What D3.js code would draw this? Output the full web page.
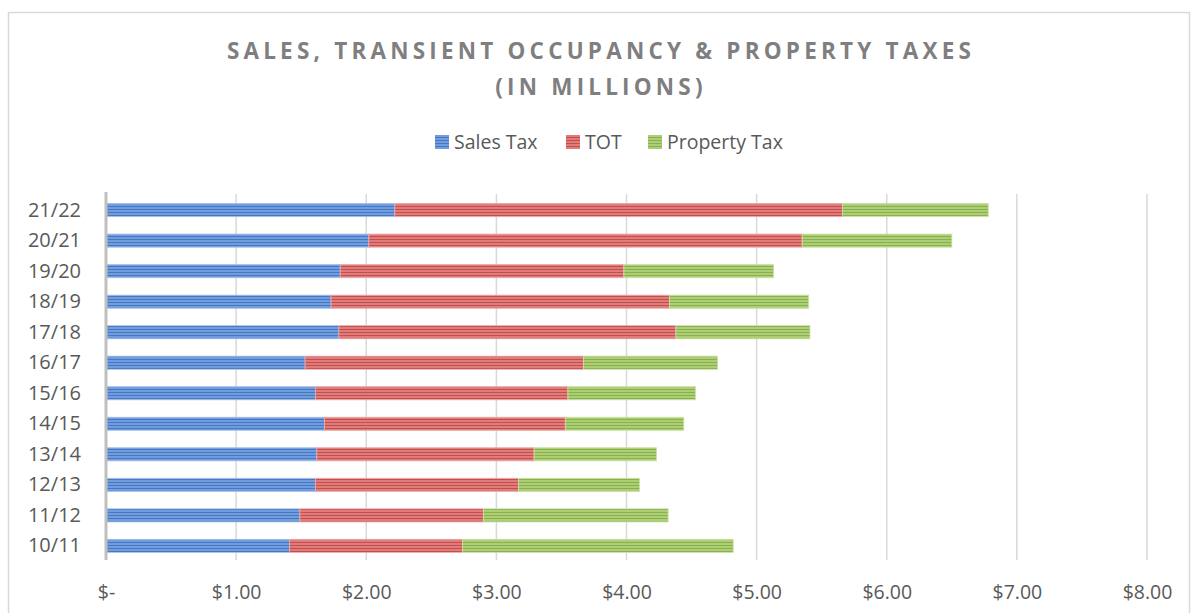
<!DOCTYPE html>
<html>
<head>
<meta charset="utf-8">
<script src="https://cdn.jsdelivr.net/npm/d3@7"></script>
<style>
  body { margin: 0; background: #fff; }
  svg { display: block; font-family: "Open Sans", sans-serif; }
</style>
</head>
<body>
<svg id="chart" width="1198" height="613"></svg>
<script>
// fiscal years, bottom to top as drawn
const years = ["10/11", "11/12", "12/13", "13/14", "14/15", "15/16", "16/17", "17/18", "18/19", "19/20", "20/21", "21/22"];
const salesTax    = [1.41, 1.49, 1.61, 1.62, 1.68, 1.61, 1.53, 1.79, 1.73, 1.80, 2.02, 2.22];
const tot         = [1.33, 1.41, 1.56, 1.67, 1.85, 1.94, 2.14, 2.59, 2.60, 2.18, 3.33, 3.44];
const propertyTax = [2.08, 1.42, 0.93, 0.94, 0.91, 0.98, 1.03, 1.03, 1.07, 1.15, 1.15, 1.12];
const xTicks = [0, 1, 2, 3, 4, 5, 6, 7, 8];
const seriesNames = ["Sales Tax", "TOT", "Property Tax"];

const width = 1198, height = 613;
const margin = {top: 194, right: 51, bottom: 53, left: 106};

const svg = d3.select("#chart");

// outer chart border
svg.append("rect")
  .attr("x", 8.5).attr("y", 12.5)
  .attr("width", 1181).attr("height", 640)
  .attr("fill", "none").attr("stroke", "#d9d9d9").attr("stroke-width", 1.5);

// striped fills like the excel pattern
const colors = {
  "Sales Tax":    {base: "#6f9de0", dark: "#4a78bf", light: "#a5c2ea"},
  "TOT":          {base: "#e27c7a", dark: "#c0504e", light: "#efa9a8"},
  "Property Tax": {base: "#adcf73", dark: "#8aae52", light: "#cbe2a2"}
};
const defs = svg.append("defs");
seriesNames.forEach((name, i) => {
  const c = colors[name];
  const p = defs.append("pattern")
    .attr("id", "pat" + i)
    .attr("patternUnits", "userSpaceOnUse")
    .attr("width", 8).attr("height", 3);
  p.append("rect").attr("width", 8).attr("height", 3).attr("fill", c.base);
  p.append("rect").attr("y", 2).attr("width", 8).attr("height", 1).attr("fill", c.dark);
});

// title
const title = svg.append("text")
  .attr("text-anchor", "middle")
  .attr("fill", "#7f7f7f")
  .attr("font-size", 22.5)
  .attr("font-weight", "bold")
  .attr("letter-spacing", 4.2);
title.append("tspan").attr("x", 601).attr("y", 59).text("SALES, TRANSIENT OCCUPANCY & PROPERTY TAXES");
title.append("tspan").attr("x", 601).attr("y", 95).text("(IN MILLIONS)");

// legend
const legendX = [435, 566, 648];
const legend = svg.append("g");
seriesNames.forEach((name, i) => {
  legend.append("rect")
    .attr("x", legendX[i]).attr("y", 135)
    .attr("width", 14).attr("height", 14)
    .attr("fill", "url(#pat" + i + ")");
  legend.append("text")
    .attr("x", legendX[i] + 19).attr("y", 149)
    .attr("fill", "#595959").attr("font-size", 19.5)
    .text(name);
});

const x = d3.scaleLinear()
  .domain([0, 8])
  .range([margin.left, width - margin.right]);

const y = d3.scaleBand()
  .domain(years)
  .range([height - margin.bottom, margin.top])
  .paddingInner(0.57)
  .paddingOuter(0.28);

// gridlines
svg.append("g")
  .selectAll("line")
  .data(xTicks.slice(1))
  .join("line")
  .attr("x1", d => x(d)).attr("x2", d => x(d))
  .attr("y1", margin.top).attr("y2", height - margin.bottom)
  .attr("stroke", "#d9d9d9").attr("stroke-width", 1.5);

// stacked bars
const table = years.map((yr, i) => ({year: yr, "Sales Tax": salesTax[i], "TOT": tot[i], "Property Tax": propertyTax[i]}));
const stacked = d3.stack().keys(seriesNames)(table);

svg.append("g")
  .selectAll("g")
  .data(stacked)
  .join("g")
  .attr("fill", (d, i) => "url(#pat" + i + ")")
  .attr("stroke", d => colors[d.key].light)
  .attr("stroke-width", 0.8)
  .selectAll("rect")
  .data(d => d)
  .join("rect")
  .attr("x", d => x(d[0]))
  .attr("y", d => y(d.data.year) + 1)
  .attr("width", d => x(d[1]) - x(d[0]))
  .attr("height", y.bandwidth());

// y axis line
svg.append("line")
  .attr("x1", x(0)).attr("x2", x(0))
  .attr("y1", margin.top - 2).attr("y2", height - margin.bottom)
  .attr("stroke", "#bfbfbf").attr("stroke-width", 3);

// y labels
const yAxis = svg.append("g")
  .attr("transform", `translate(${x(0) - 25},1)`)
  .call(d3.axisLeft(y).tickSize(0).tickPadding(0));
yAxis.select(".domain").remove();
yAxis.selectAll("text")
  .attr("font-family", "Open Sans, sans-serif")
  .attr("font-size", 20)
  .attr("fill", "#595959");

// x labels
const xAxis = svg.append("g")
  .attr("transform", `translate(0,${height - margin.bottom + 17})`)
  .call(d3.axisBottom(x).tickValues(xTicks).tickSize(0).tickPadding(8)
    .tickFormat(d => d === 0 ? "$-" : "$" + d3.format(".2f")(d)));
xAxis.select(".domain").remove();
xAxis.selectAll("text")
  .attr("font-family", "Open Sans, sans-serif")
  .attr("font-size", 19.5)
  .attr("fill", "#595959");
</script>
</body>
</html>
